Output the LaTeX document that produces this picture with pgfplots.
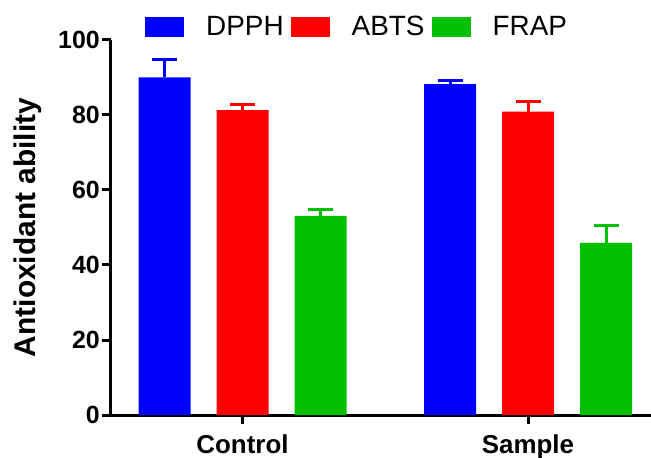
\documentclass[border=0pt]{standalone}
\usepackage{fontspec}
\setmainfont{Liberation Sans}
\usepackage{pgfplots}
\pgfplotsset{compat=1.18}
\definecolor{cblue}{RGB}{0,0,255}
\definecolor{cred}{RGB}{255,0,0}
\definecolor{cgreen}{RGB}{0,192,0}
\begin{document}
\begin{tikzpicture}
\useasboundingbox (-111bp,-43bp) rectangle (540bp,415bp);
\begin{axis}[
  scale only axis,
  width=540bp, height=375bp,
  xmin=-0.4606, xmax=1.4308,
  ymin=0, ymax=100,
  ytick={0,20,40,60,80,100},
  xtick={0,1},
  xticklabels={Control,Sample},
  axis x line*=bottom, axis y line*=left,
  axis line style={line width=3bp, black},
  tick style={line width=3bp, black},
  major tick length=9bp,
  tick align=outside,
  /pgf/number format/assume math mode=true,
  yticklabel style={font=\fontsize{25}{30}\selectfont\bfseries, inner sep=2bp},
  xticklabel style={font=\fontsize{26}{31}\selectfont\bfseries, inner sep=3bp, yshift=-8bp},
  ylabel={Antioxidant ability},
  ylabel style={font=\fontsize{30}{36}\selectfont\bfseries, at={(axis description cs:-0.1537,0.5)}, anchor=center, rotate=0},
  ybar,
  bar width=52bp,
  legend columns=3,
  legend style={at={(axis description cs:0.0630,1.0347)}, anchor=west, draw=none, fill=none, inner sep=0pt,
    font=\fontsize{28}{33}\selectfont, nodes={inner sep=0pt},
    /tikz/every odd column/.style={column sep=22bp},
    /tikz/every even column/.style={column sep=7bp}},
  legend image code/.code={\fill (0bp,-10bp) rectangle (39bp,10bp);},
  clip=false,
]
\addplot[fill=cblue, draw=none, bar shift=-78bp,
  error bars/.cd, y dir=plus, y explicit,
  error bar style={draw=cblue, line width=3bp},
  error mark options={rotate=90, mark size=12.5bp, line width=3bp, draw=cblue}]
  coordinates {(0,90.0) +- (0,4.7) (1,88.2) +- (0,1.0)};
\addplot[fill=cred, draw=none, bar shift=0bp,
  error bars/.cd, y dir=plus, y explicit,
  error bar style={draw=cred, line width=3bp},
  error mark options={rotate=90, mark size=12.5bp, line width=3bp, draw=cred}]
  coordinates {(0,81.3) +- (0,1.6) (1,80.9) +- (0,2.7)};
\addplot[fill=cgreen, draw=none, bar shift=78bp,
  error bars/.cd, y dir=plus, y explicit,
  error bar style={draw=cgreen, line width=3bp},
  error mark options={rotate=90, mark size=12.5bp, line width=3bp, draw=cgreen}]
  coordinates {(0,53.1) +- (0,1.8) (1,45.9) +- (0,4.6)};
\legend{DPPH,ABTS,FRAP}
\end{axis}
\end{tikzpicture}
\end{document}
